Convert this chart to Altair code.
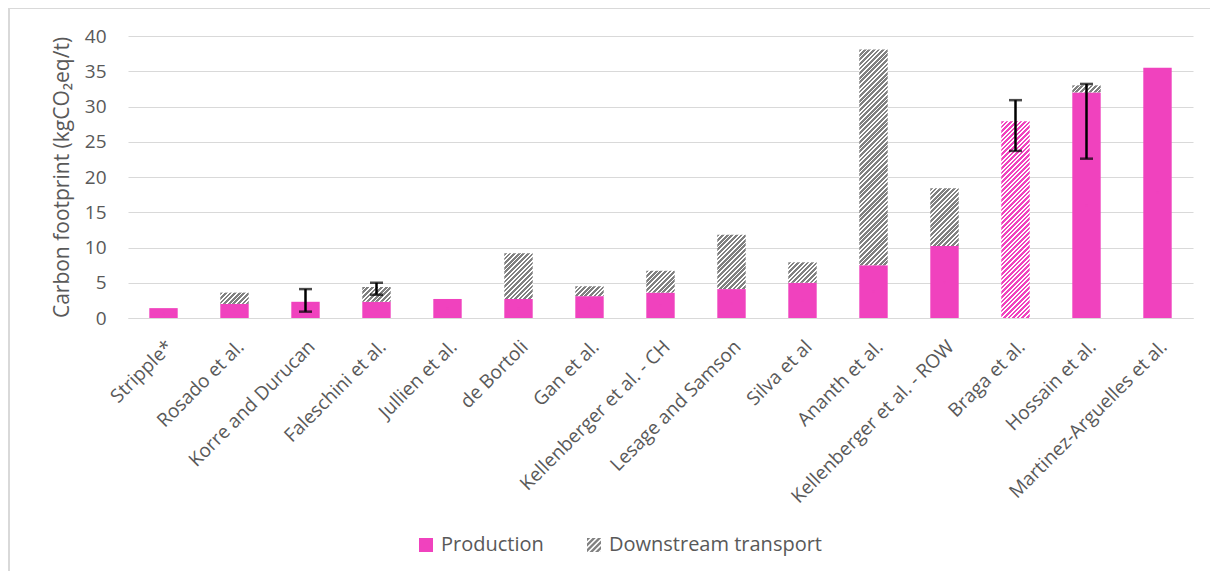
import altair as alt
import pandas as pd

# ---------------- data ----------------
studies = [
    "Stripple*", "Rosado et al.", "Korre and Durucan", "Faleschini et al.",
    "Jullien et al.", "de Bortoli", "Gan et al.", "Kellenberger et al. - CH",
    "Lesage and Samson", "Silva et al", "Ananth et al.",
    "Kellenberger et al. - ROW", "Braga et al.", "Hossain et al.",
    "Martinez-Arguelles et al.",
]
production = [1.4, 2.0, 2.3, 2.3, 2.7, 2.7, 3.1, 3.6, 4.1, 5.0, 7.5, 10.2, 27.9, 32.0, 35.5]
transport = [0.0, 1.6, 0.0, 2.1, 0.0, 6.5, 1.4, 3.1, 7.7, 2.9, 30.6, 8.2, 0.0, 1.0, 0.0]
hatched_production = ["Braga et al."]

err_studies = ["Korre and Durucan", "Faleschini et al.", "Braga et al.", "Hossain et al."]
err_low = [0.9, 3.3, 23.7, 22.6]
err_high = [4.1, 5.0, 30.9, 33.2]

y_ticks = [0, 5, 10, 15, 20, 25, 30, 35, 40]
components = ["Production", "Downstream transport"]
y_title = "Carbon footprint (kgCO\u2082eq/t)"

# ---------------- styling ----------------
PINK = "#F042BE"
GREY = "#808080"
WHITE = "#FFFFFF"
TEXT = "#595959"
GRID = "#D9D9D9"
FONT = "Open Sans"

W, H = 1065, 282
Y_MAX = 40
PAD_INNER, PAD_OUTER = 0.6, 0.3
PAD = {"left": 120, "top": 28, "right": 17, "bottom": 253}
HATCH_PERIOD = 4.6
HATCH_FILL = 0.6
LEGEND_HATCH_PERIOD = 5.5

step = W / (len(studies) - PAD_INNER + 2 * PAD_OUTER)
bar_w = step * (1 - PAD_INNER)

rows = []
for s, p, t in zip(studies, production, transport):
    rows.append(dict(study=s, component="Production", lo=0.0, hi=p))
    if t > 0:
        rows.append(dict(study=s, component="Downstream transport", lo=p, hi=p + t))
seg = pd.DataFrame(rows)
seg["mid"] = (seg["lo"] + seg["hi"]) / 2
err = pd.DataFrame(dict(study=err_studies, low=err_low, high=err_high))


def hatch(h_px, w_px, c1, c2, period=HATCH_PERIOD, frac=HATCH_FILL):
    """Linear gradient with hard stops giving 45deg '/' stripes in a w x h box."""
    w, h = w_px, max(h_px, 1.0)
    s = (w + h) / (w * w + h * h)
    d = period / (w + h)
    stops = []
    k = 0
    while k * d < 1:
        a = k * d
        b = min(a + d * frac, 1.0)
        c = min(a + d, 1.0)
        stops += [(c1, a), (c1, b), (c2, b), (c2, c)]
        k += 1
    return alt.LinearGradient(
        gradient="linear",
        stops=[alt.GradientStop(color=col, offset=round(o, 5)) for col, o in stops],
        x1=0, y1=0, x2=round(w * s, 5), y2=round(h * s, 5),
    )


def clip_band(a, b):
    poly = [(-1.0, -1.0), (1.0, -1.0), (1.0, 1.0), (-1.0, 1.0)]

    def clip(poly, f):
        out = []
        n = len(poly)
        for i in range(n):
            P, Q = poly[i], poly[(i + 1) % n]
            fp, fq = f(P), f(Q)
            if fp >= 0:
                out.append(P)
            if (fp >= 0) != (fq >= 0):
                t = fp / (fp - fq)
                out.append((P[0] + t * (Q[0] - P[0]), P[1] + t * (Q[1] - P[1])))
        return out

    poly = clip(poly, lambda p: p[0] + p[1] - a)
    poly = clip(poly, lambda p: b - (p[0] + p[1]))
    return poly


# legend hatch symbol (unit square [-1,1], 14px => 7px per unit)
unit = 7.0
per = LEGEND_HATCH_PERIOD / unit
parts = []
a = -2.0
while a < 2.0:
    poly = clip_band(a, a + per * HATCH_FILL)
    if len(poly) >= 3:
        parts.append("M" + "L".join(f"{x:.3f},{y:.3f}" for x, y in poly) + "Z")
    a += per
hatch_path = "".join(parts)

# ---------------- encodings ----------------
x_enc = alt.X(
    "study:N", sort=studies, title=None,
    scale=alt.Scale(paddingInner=PAD_INNER, paddingOuter=PAD_OUTER),
    axis=alt.Axis(
        labelAngle=-45, labelAlign="right", labelBaseline="top", labelPadding=19,
        labelFontSize=19, labelColor=TEXT, labelFont=FONT, labelLimit=400,
        ticks=False, domainColor=GRID, domainWidth=1,
    ),
)
y_axis = alt.Axis(
    values=y_ticks, title=y_title, grid=True, gridColor=GRID, gridWidth=1,
    domain=False, ticks=False, tickSize=0, labelPadding=22,
    labelFontSize=19, labelColor=TEXT, labelFont=FONT,
    titleFontSize=21, titleColor=TEXT, titleFont=FONT, titleFontWeight="normal",
    titlePadding=12,
)


def y_enc(field):
    return alt.Y(f"{field}:Q", scale=alt.Scale(domain=[0, Y_MAX], nice=False), axis=y_axis)


leg = alt.Legend(
    orient="none", legendX=288, legendY=499, direction="horizontal", title=None,
    symbolSize=196, symbolStrokeWidth=0, symbolOpacity=1, labelFontSize=20,
    labelColor=TEXT, labelFont=FONT, labelOffset=5, columnPadding=40, padding=0,
    labelLimit=400,
)

# legend carrier: tiny points hidden beneath the bars
legend_layer = alt.Chart(seg).mark_point(filled=True, size=4).encode(
    x=x_enc,
    y=y_enc("mid"),
    color=alt.Color("component:N", scale=alt.Scale(domain=components, range=[PINK, GREY]), legend=leg),
    shape=alt.Shape("component:N", scale=alt.Scale(domain=components, range=["square", hatch_path]), legend=leg),
)

solid = seg[(seg["component"] == "Production") & (~seg["study"].isin(hatched_production))]
solid_layer = alt.Chart(solid).mark_bar(color=PINK).encode(
    x=x_enc, y=y_enc("lo"), y2="hi:Q"
)

hatch_layers = []
for _, r in seg.iterrows():
    is_transport = r["component"] == "Downstream transport"
    is_hatched_prod = r["component"] == "Production" and r["study"] in hatched_production
    if not (is_transport or is_hatched_prod):
        continue
    h_px = (r["hi"] - r["lo"]) * H / Y_MAX
    col = GREY if is_transport else PINK
    grad = hatch(h_px, bar_w, col, WHITE)
    df = pd.DataFrame([r])
    hatch_layers.append(
        alt.Chart(df).mark_bar(fill=grad).encode(x=x_enc, y=y_enc("lo"), y2="hi:Q")
    )

err_rule = alt.Chart(err).mark_rule(color="black", strokeWidth=2.5).encode(
    x=x_enc, y=y_enc("low"), y2="high:Q"
)
cap_lo = alt.Chart(err).mark_tick(color="black", thickness=2.5, size=13).encode(
    x=x_enc, y=y_enc("low")
)
cap_hi = alt.Chart(err).mark_tick(color="black", thickness=2.5, size=13).encode(
    x=x_enc, y=y_enc("high")
)

frame_df = pd.DataFrame({"k": [0]})
frame_left = alt.Chart(frame_df).mark_rule(color=GRID, strokeWidth=2).encode(
    x=alt.value(-PAD["left"] + 1), y=alt.value(-PAD["top"]), y2=alt.value(H + PAD["bottom"])
)
frame_top = alt.Chart(frame_df).mark_rule(color=GRID, strokeWidth=1).encode(
    x=alt.value(-PAD["left"]), x2=alt.value(W + PAD["right"]), y=alt.value(-PAD["top"] + 0.5)
)

chart = alt.layer(
    solid_layer, frame_left, frame_top, legend_layer, *hatch_layers, err_rule, cap_lo, cap_hi
).properties(
    width=W, height=H,
    autosize=alt.AutoSizeParams(type="none"),
    padding=PAD,
    background="white",
).configure_view(stroke=None)

chart.save("out.html", embed_options={"renderer": "svg", "actions": False})
